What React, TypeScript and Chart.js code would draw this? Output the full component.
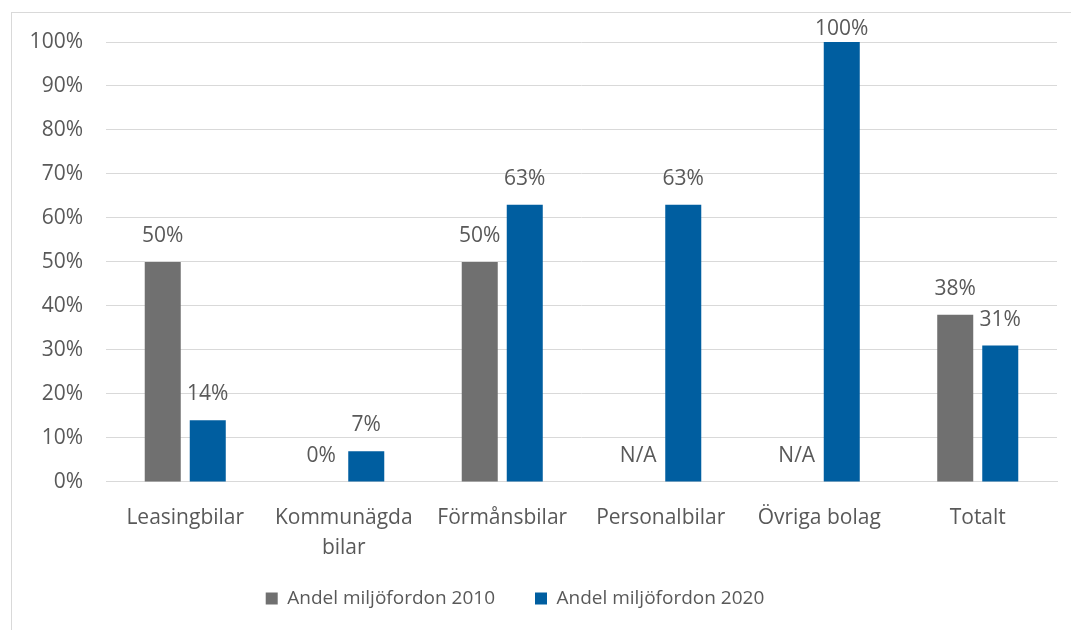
import React, { useEffect, useRef } from "react";
import { Chart, registerables } from "chart.js";

Chart.register(...registerables);

const categories: (string | string[])[] = [
  "Leasingbilar",
  ["Kommunägda", "bilar"],
  "Förmånsbilar",
  "Personalbilar",
  "Övriga bolag",
  "Totalt",
];
const seriesNames = ["Andel miljöfordon 2010", "Andel miljöfordon 2020"];
const values2010: (number | null)[] = [50, 0, 50, null, null, 38];
const values2020: (number | null)[] = [14, 7, 63, 63, 100, 31];
const yMin = 0;
const yMax = 100;
const yStep = 10;
const naLabel = "N/A";

const FONT = "'Open Sans', 'Liberation Sans', sans-serif";
const TEXT = "#595959";
const GRID = "#D9D9D9";
const GRAY = "#707070";
const BLUE = "#005EA0";

const valueLabels = {
  id: "valueLabels",
  afterDatasetsDraw(chart: any) {
    const { ctx, chartArea } = chart;
    const yScale = chart.scales.y;
    ctx.save();
    ctx.font = `21px ${FONT}`;
    ctx.fillStyle = TEXT;
    ctx.textAlign = "center";
    ctx.textBaseline = "middle";
    chart.data.datasets.forEach((ds: any, di: number) => {
      const meta = chart.getDatasetMeta(di);
      meta.data.forEach((el: any, i: number) => {
        const v = ds.data[i];
        const top = v == null ? yScale.getPixelForValue(0) : el.y;
        const y = Math.max(top - 26, chartArea.top - 13);
        ctx.fillText(v == null ? naLabel : `${v}%`, el.x, y);
      });
    });
    ctx.restore();
  },
};

// place the legend row like the original (centred slightly left, text centre near y=599)
const legendPlace = {
  id: "legendPlace",
  afterLayout(chart: any) {
    const lg = chart.legend;
    if (lg) {
      const h = lg.bottom - lg.top;
      lg.right = 1030;
      lg.left = 0;
      lg.top = 599 - 40 - 10;
      lg.bottom = lg.top + h;
    }
  },
};

export default function App() {
  const ref = useRef<HTMLCanvasElement>(null);
  useEffect(() => {
    if (!ref.current) return;
    const chart = new Chart(ref.current, {
      type: "bar",
      data: {
        labels: categories,
        datasets: [
          {
            label: seriesNames[0],
            data: values2010,
            backgroundColor: GRAY,
            borderWidth: 0,
            categoryPercentage: 0.568,
            barPercentage: 0.8,
          },
          {
            label: seriesNames[1],
            data: values2020,
            backgroundColor: BLUE,
            borderWidth: 0,
            categoryPercentage: 0.568,
            barPercentage: 0.8,
          },
        ],
      },
      options: {
        responsive: false,
        animation: false,
        layout: { padding: { top: 42, right: 14, left: 0, bottom: -23 } },
        plugins: {
          tooltip: { enabled: false },
          legend: {
            position: "bottom",
            labels: {
              boxWidth: 12,
              boxHeight: 12,
              padding: 40,
              color: TEXT,
              font: { family: FONT, size: 19 },
            },
          },
        },
        scales: {
          x: {
            grid: { display: false, drawTicks: false },
            border: { display: true, color: GRID },
            ticks: {
              color: TEXT,
              font: { family: FONT, size: 21, lineHeight: 1.43 },
              padding: 21,
              maxRotation: 0,
              autoSkip: false,
            },
          },
          y: {
            min: yMin,
            max: yMax,
            grid: { color: GRID, drawTicks: false },
            border: { display: false },
            ticks: {
              stepSize: yStep,
              color: TEXT,
              padding: 23,
              font: { family: FONT, size: 21 },
              callback: (v: any) => `${v}%`,
            },
            afterFit: (s: any) => {
              s.width = 106;
            },
          },
        },
      },
      plugins: [valueLabels, legendPlace],
    });
    return () => chart.destroy();
  }, []);

  return (
    <div style={{ position: "absolute", left: 0, top: 0, width: 1071, height: 630, overflow: "hidden", background: "#fff" }}>
      <div
        style={{
          position: "absolute",
          left: 11,
          top: 12,
          width: 1080,
          height: 640,
          border: `1px solid ${GRID}`,
          boxSizing: "border-box",
        }}
      />
      <canvas ref={ref} width={1071} height={630} style={{ position: "absolute", left: 0, top: 0 }} />
    </div>
  );
}
